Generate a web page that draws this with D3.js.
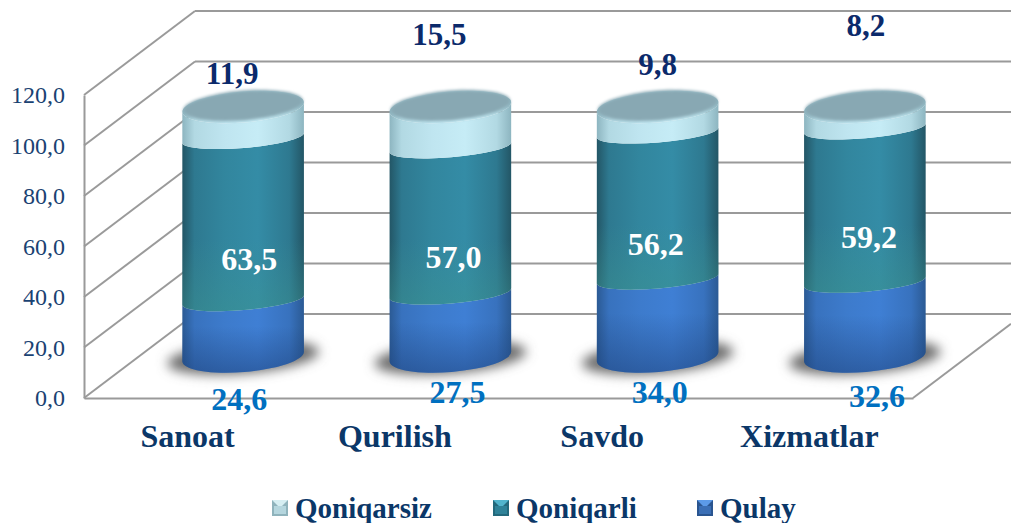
<!DOCTYPE html>
<html>
<head>
<meta charset="utf-8">
<script src="https://cdn.jsdelivr.net/npm/d3@7"></script>
<style>
  html, body { margin: 0; background: #fff; }
  svg { display: block; }
  text { font-family: "Liberation Serif", serif; }
</style>
</head>
<body>
<div id="chart"></div>
<script>
const categories = ['Sanoat', 'Qurilish', 'Savdo', 'Xizmatlar'];
const seriesNames = ['Qulay', 'Qoniqarli', 'Qoniqarsiz'];
const qulay = [24.6, 27.5, 34.0, 32.6];
const qoniqarli = [63.5, 57.0, 56.2, 59.2];
const qoniqarsiz = [11.9, 15.5, 9.8, 8.2];
const yTicks = [0, 20, 40, 60, 80, 100, 120];

// the labels in the source were dragged by hand, so each one gets a nudge
const labelNudgeX = [[-4, 7, 2, 12], [6, 3, -2, 4], [-11, -11, 0, 1]];
const labelNudgeY = [[12, 5, 5, 9], [50, 47, 50, 43], [-23, -62, -32, -71]];

const width = 1011;
const height = 523;
const margin = { top: 95, right: 98, bottom: 125, left: 84 };
const depth = { x: 111, y: 84 };
const fmt = v => v.toFixed(1).replace('.', ',');

const series = [qulay, qoniqarli, qoniqarsiz];
const stacks = categories.map((c, i) => {
  let sum = 0;
  return series.map(s => {
    const d = { i, y0: sum, y1: sum + s[i], value: s[i] };
    sum = d.y1;
    return d;
  });
});

const xScale = d3.scaleBand()
  .domain(categories)
  .range([margin.left, width - margin.right]);

const yScale = d3.scaleLinear()
  .domain([0, 120])
  .range([height - margin.bottom, margin.top]);

// cylinders stand halfway into the floor; the 3D projection is not quite linear
const cylScale = d3.scaleLinear().domain([0, 34, 100]).range([356.5, 278.5, 107]);
const cx = c => xScale(c) + xScale.bandwidth() / 2 + depth.x / 2;

const svg = d3.select('#chart')
  .append('svg')
    .attr('width', width)
    .attr('height', height);

const defs = svg.append('defs');

const sideGradient = (id, edge, mid) => {
  const g = defs.append('linearGradient').attr('id', id);
  const mix = d3.interpolateRgb(edge, mid);
  [[0, edge], [0.1, mix(0.65)], [0.35, mix(0.88)], [0.62, mid], [0.88, mix(0.65)], [1, edge]]
    .forEach(s => g.append('stop').attr('offset', s[0]).attr('stop-color', s[1]));
};
sideGradient('side-0', '#2b5a94', '#3f7fd4');
sideGradient('side-1', '#235666', '#348ca6');
sideGradient('side-2', '#8db5c0', '#c6ecf6');

const darken = defs.append('linearGradient')
  .attr('id', 'blue-fade').attr('x1', 0).attr('x2', 0).attr('y1', 0).attr('y2', 1);
darken.append('stop').attr('offset', 0.4).attr('stop-color', '#1c3f78').attr('stop-opacity', 0);
darken.append('stop').attr('offset', 1).attr('stop-color', '#1c3f78').attr('stop-opacity', 0.5);

const tealFade = defs.append('linearGradient')
  .attr('id', 'teal-fade').attr('x1', 0).attr('x2', 0).attr('y1', 0).attr('y2', 1);
tealFade.append('stop').attr('offset', 0.6).attr('stop-color', '#3c9490').attr('stop-opacity', 0);
tealFade.append('stop').attr('offset', 1).attr('stop-color', '#3c9490').attr('stop-opacity', 0.45);

defs.append('filter').attr('id', 'blur').attr('x', '-30%').attr('y', '-80%').attr('width', '160%').attr('height', '260%')
  .append('feGaussianBlur').attr('stdDeviation', 6);
defs.append('filter').attr('id', 'soft').attr('x', '-10%').attr('y', '-20%').attr('width', '120%').attr('height', '140%')
  .append('feGaussianBlur').attr('stdDeviation', 1.5);

// walls and floor
const grid = svg.append('g')
  .attr('fill', 'none')
  .attr('stroke', '#9a9a9a')
  .attr('stroke-width', 2);

grid.selectAll('.side')
  .data(yTicks)
  .enter().append('line')
    .attr('x1', margin.left)
    .attr('y1', d => yScale(d))
    .attr('x2', margin.left + depth.x)
    .attr('y2', d => yScale(d) - depth.y);

grid.selectAll('.back')
  .data(yTicks)
  .enter().append('line')
    .attr('x1', margin.left + depth.x)
    .attr('y1', d => yScale(d) - depth.y)
    .attr('x2', width)
    .attr('y2', d => yScale(d) - depth.y);

grid.append('line')
  .attr('x1', width - margin.right)
  .attr('y1', yScale(0))
  .attr('x2', width)
  .attr('y2', yScale(0) - depth.y * margin.right / depth.x);

// axes
const yAxis = d3.axisLeft(yScale)
  .tickValues(yTicks)
  .tickSize(0)
  .tickPadding(19)
  .tickFormat(fmt);

const xAxis = d3.axisBottom(xScale)
  .tickSize(0)
  .tickPadding(26);

const gy = svg.append('g')
  .attr('transform', `translate(${margin.left}, 0)`)
  .call(yAxis);
gy.select('.domain').attr('stroke', '#9a9a9a').attr('stroke-width', 2);
gy.selectAll('text')
  .attr('font-family', '"Liberation Serif", serif')
  .attr('font-size', 24)
  .attr('fill', '#1a4272');

const gx = svg.append('g')
  .attr('transform', `translate(0, ${yScale(0)})`)
  .call(xAxis);
gx.select('.domain').attr('stroke', '#9a9a9a').attr('stroke-width', 2);
gx.selectAll('text')
  .attr('font-family', '"Liberation Serif", serif')
  .attr('font-size', 32)
  .attr('font-weight', 'bold')
  .attr('fill', '#0b3768');

// cylinders
const rx = 61;
const ryEnd = 15.5;
const ryInner = 10;
const tilt = -4.7;
const tiltRad = tilt * Math.PI / 180;
const edge = (x, y, dir) => [x + dir * rx * Math.cos(tiltRad), y + dir * rx * Math.sin(tiltRad)];

const sidePath = (x, yTop, yBottom, ryTop, ryBottom) => {
  const tl = edge(x, yTop, -1);
  const tr = edge(x, yTop, 1);
  const bl = edge(x, yBottom, -1);
  const br = edge(x, yBottom, 1);
  return `M${tl}A${rx},${ryTop} ${tilt} 0 0 ${tr}L${br}A${rx},${ryBottom} ${tilt} 0 1 ${bl}Z`;
};

const cyl = svg.selectAll('.cyl')
  .data(categories)
  .enter().append('g')
    .attr('class', 'cyl');

cyl.append('ellipse')
  .attr('rx', 76)
  .attr('ry', 16)
  .attr('fill', '#6a6a6a')
  .attr('filter', 'url(#blur)')
  .attr('transform', d => `translate(${cx(d)}, ${cylScale(0) + 1}) rotate(${tilt})`);

categories.forEach((c, i) => {
  const g = cyl.filter(d => d === c);
  stacks[i].forEach((s, k) => {
    const path = sidePath(cx(c), cylScale(s.y1), cylScale(s.y0), k === 2 ? ryEnd : ryInner, k === 0 ? ryEnd : ryInner);
    g.append('path').attr('d', path).attr('fill', `url(#side-${k})`);
    if (k === 0) g.append('path').attr('d', path).attr('fill', 'url(#blue-fade)');
    if (k === 1) g.append('path').attr('d', path).attr('fill', 'url(#teal-fade)');
  });

  const top = cylScale(stacks[i][2].y1);
  g.append('ellipse')
    .attr('rx', rx)
    .attr('ry', ryEnd)
    .attr('fill', 'url(#side-2)')
    .attr('transform', `translate(${cx(c)}, ${top}) rotate(${tilt})`);
  g.append('ellipse')
    .attr('rx', rx - 1)
    .attr('ry', ryEnd - 0.5)
    .attr('fill', '#88a8b3')
    .attr('filter', 'url(#soft)')
    .attr('transform', `translate(${cx(c)}, ${top - 1.5}) rotate(${tilt})`);
});

// data labels
const labelStyle = [
  { fill: '#0070c0', size: 32 },
  { fill: '#ffffff', size: 32 },
  { fill: '#0b2a6b', size: 31 },
];
const labelBase = [
  () => yScale(0),
  d => cylScale((d.y0 + d.y1) / 2),
  () => cylScale(100),
];

stacks.forEach((stack, i) => {
  stack.forEach((d, k) => {
    svg.append('text')
      .attr('x', cx(categories[i]) + labelNudgeX[k][i])
      .attr('y', labelBase[k](d) + labelNudgeY[k][i])
      .attr('text-anchor', 'middle')
      .attr('font-size', labelStyle[k].size)
      .attr('font-weight', 'bold')
      .attr('fill', labelStyle[k].fill)
      .text(fmt(d.value));
  });
});

// legend, order as in the source: top of the stack first
const legendX = [272, 493, 697];
const legendNames = seriesNames.slice().reverse();
const swatchEdge = ['#8fb3bc', '#23697c', '#2a5590'];
const swatchTop = ['#d6eef2', '#52b4cc', '#5c9ae8'];
const swatchMid = ['#b5d6de', '#2f8298', '#3b6fb6'];

const legend = svg.selectAll('.legend')
  .data(legendNames)
  .enter().append('g')
    .attr('class', 'legend')
    .attr('transform', (d, i) => `translate(${legendX[i]}, 500)`);

legend.append('rect')
  .attr('width', 16)
  .attr('height', 16)
  .attr('fill', (d, i) => swatchEdge[i]);
legend.append('path')
  .attr('d', 'M0,0H16L8,8Z')
  .attr('fill', (d, i) => swatchTop[i]);
legend.append('rect')
  .attr('x', 2)
  .attr('y', 6)
  .attr('width', 12)
  .attr('height', 8)
  .attr('fill', (d, i) => swatchMid[i]);
legend.append('text')
  .attr('x', 23)
  .attr('y', 18)
  .attr('font-size', 29)
  .attr('font-weight', 'bold')
  .attr('fill', '#0b3768')
  .text(d => d);
</script>
</body>
</html>
